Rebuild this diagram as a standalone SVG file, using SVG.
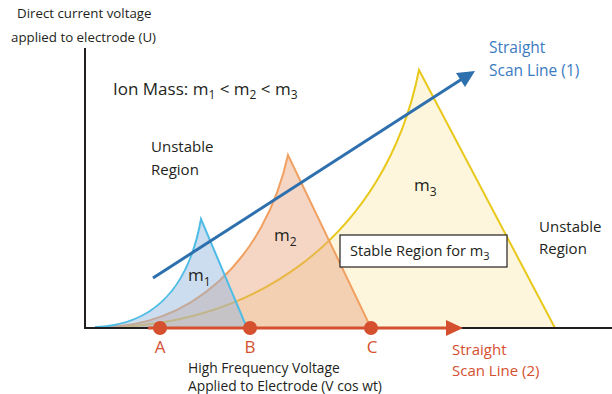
<svg xmlns="http://www.w3.org/2000/svg" width="612" height="394" viewBox="0 0 612 394">
<defs>
<style>
text{font-family:"Open Sans","Noto Sans","Liberation Sans",sans-serif;fill:#231f20}
.lab{font-size:15px}
.sm{font-size:13.3px}
.red{fill:#d4502f}
.blue{fill:#3a7bbf}
.sub{font-size:11px}
</style>
</defs>
<rect width="612" height="394" fill="#fff"/>
<g id="m3">
<path d="M96,327 C250,330 385,240 419,70 L555,328 L96,328 Z" fill="#fdf4d8" fill-opacity="0.9" stroke="#e8c81a" stroke-width="2"/>
</g>
<g id="m2">
<path d="M96,327 C190,330 265,260 288,155 L371,328 L96,328 Z" fill="#e9a37f" fill-opacity="0.45" stroke="#f0a060" stroke-width="2"/>
</g>
<g id="m1">
<path d="M96,327 C150,325 188,292 201,219 L247,328 L96,328 Z" fill="#8fb4de" fill-opacity="0.45" stroke="#4fbce6" stroke-width="2"/>
</g>
<g id="axes">
<path d="M85,48 V328 H612" fill="none" stroke="#231f20" stroke-width="2"/>
</g>
<g id="connectors">
<line x1="153" y1="278" x2="462" y2="79" stroke="#2e6fad" stroke-width="3"/>
<path d="M475,71 L456,73 L465,87 Z" fill="#2e6fad"/>
<line x1="148" y1="328" x2="448" y2="328" stroke="#d4502f" stroke-width="3"/>
<path d="M463,328 L446,320 L446,336 Z" fill="#d4502f"/>
</g>
<g id="points" fill="#d4502f">
<circle cx="160" cy="328" r="7"/>
<circle cx="250" cy="328" r="7"/>
<circle cx="371" cy="328" r="7"/>
</g>
<g id="stable-box">
<rect x="340" y="235" width="167" height="32" fill="#fff" stroke="#231f20" stroke-width="1.2"/>
<text x="350" y="256" style="font-size:14.6px">Stable Region for m<tspan class="sub" dy="4">3</tspan></text>
</g>
<g id="labels">
<text x="17" y="18" class="sm">Direct current voltage</text>
<text x="11" y="42" class="sm">applied to electrode (U)</text>
<text x="113" y="95" style="font-size:17px">Ion Mass: m<tspan class="sub" style="font-size:12px" dy="4">1</tspan><tspan dy="-4"> &lt; m</tspan><tspan class="sub" style="font-size:12px" dy="4">2</tspan><tspan dy="-4"> &lt; m</tspan><tspan class="sub" style="font-size:12px" dy="4">3</tspan></text>
<text x="151" y="152" class="lab">Unstable</text>
<text x="151" y="175" class="lab">Region</text>
<text x="539" y="232" class="lab">Unstable</text>
<text x="539" y="254" class="lab">Region</text>
<text x="188" y="281" style="font-size:17px">m<tspan class="sub" style="font-size:12px" dy="5">1</tspan></text>
<text x="274" y="241" style="font-size:17px">m<tspan class="sub" style="font-size:12px" dy="5">2</tspan></text>
<text x="414" y="191" style="font-size:17px">m<tspan class="sub" style="font-size:12px" dy="5">3</tspan></text>
<text x="489" y="53" class="blue" style="font-size:15.5px">Straight</text>
<text x="489" y="76" class="blue" style="font-size:15.5px">Scan Line (1)</text>
<text x="452" y="355" class="lab red">Straight</text>
<text x="452" y="376" class="lab red">Scan Line (2)</text>
<text x="160" y="353" text-anchor="middle" class="red" style="font-size:17px">A</text>
<text x="250" y="353" text-anchor="middle" class="red" style="font-size:17px">B</text>
<text x="372" y="353" text-anchor="middle" class="red" style="font-size:17px">C</text>
<text x="188" y="373" style="font-size:13.8px">High Frequency Voltage</text>
<text x="188" y="391" style="font-size:13.8px">Applied to Electrode (V cos wt)</text>
</g>
</svg>
